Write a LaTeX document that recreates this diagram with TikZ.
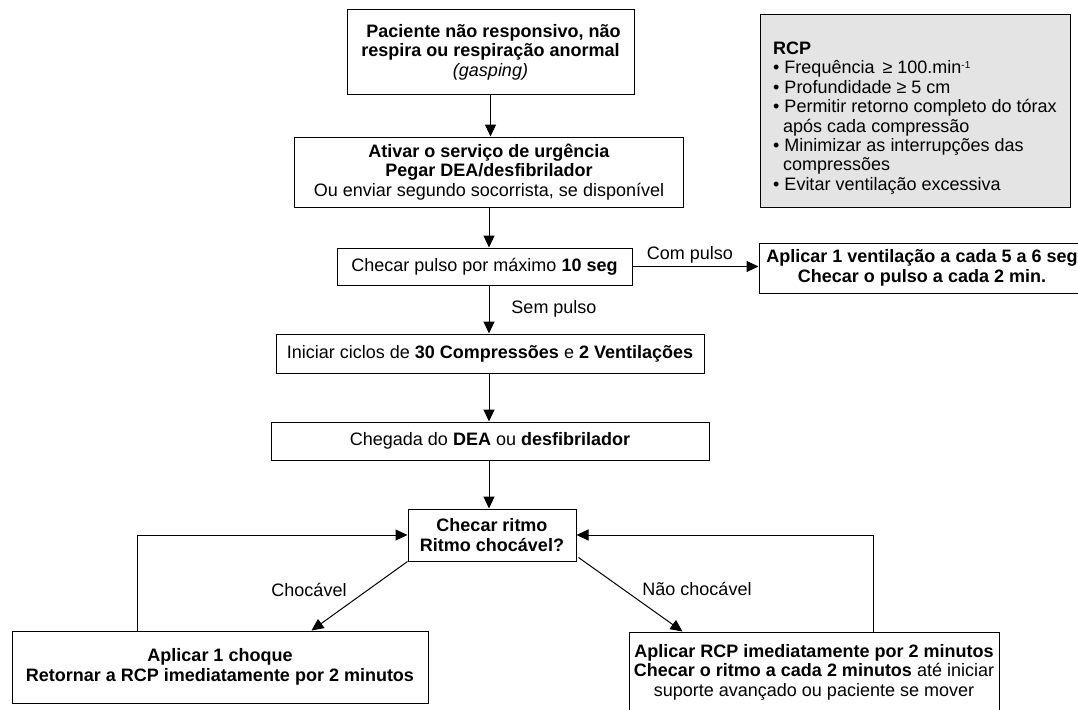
\documentclass[tikz,border=0pt]{standalone}
\usepackage{fontspec}
\setmainfont{Liberation Sans}
\usetikzlibrary{arrows.meta,calc}
\definecolor{rcpgray}{RGB}{228,228,228}
\begin{document}
\begin{tikzpicture}[x=1pt,y=-1pt,
  box/.style={draw=black, line width=1pt, rectangle, inner sep=0pt, align=center, font=\fontsize{18}{19.5}\selectfont},
  arr/.style={draw=black, line width=1pt, -{Triangle[length=12pt,width=11pt]}},
  lbl/.style={font=\fontsize{18}{19.5}\selectfont, inner sep=0pt}]
\useasboundingbox (0,0) rectangle (1078,709);
\node[box, minimum width=287, minimum height=84] (b1) at (490.5,52)
  {\hspace*{6pt}\textbf{Paciente não responsivo, não}\\ \textbf{respira ou respiração anormal}\\ \textit{(gasping)}};
\node[box, minimum width=389, minimum height=70] (b2) at (489,172)
  {\textbf{Ativar o serviço de urgência}\\ \textbf{Pegar DEA/desfibrilador}\\ Ou enviar segundo socorrista, se disponível};
\node[box, minimum width=295, minimum height=37] (b3) at (484.5,266.5)
  {Checar pulso por máximo \textbf{10 seg}};
\node[box, minimum width=326, minimum height=50] (b4) at (922,268)
  {\textbf{Aplicar 1 ventilação a cada 5 a 6 seg}\\ \textbf{Checar o pulso a cada 2 min.}};
\node[box, minimum width=428, minimum height=39] (b5) at (490,353.5)
  {Iniciar ciclos de \textbf{30 Compressões} e \textbf{2 Ventilações}};
\node[box, minimum width=438, minimum height=38] (b6) at (490,441)
  {Chegada do \textbf{DEA} ou \textbf{desfibrilador}};
\node[box, minimum width=168, minimum height=52] (b7) at (492,535)
  {\textbf{Checar ritmo}\\ \textbf{Ritmo chocável?}};
\node[box, minimum width=416, minimum height=72] (b8) at (220,667)
  {\textbf{Aplicar 1 choque}\\ \textbf{Retornar a RCP imediatamente por 2 minutos}};
\node[box, minimum width=370, minimum height=80] (b9) at (814,672)
  {\textbf{Aplicar RCP imediatamente por 2 minutos}\\ \textbf{Checar o ritmo a cada 2 minutos} até iniciar\\ suporte avançado ou paciente se mover};
\node[box, fill=rcpgray, minimum width=310, minimum height=192] (rcp) at (915,111) {};
\node[anchor=west, align=left, inner sep=0pt, font=\fontsize{18}{19.4}\selectfont] (rcpt) at (773,118)
  {\textbf{RCP}\\ • Frequência \,≥ 100.min\raisebox{0.55ex}{\fontsize{10}{10}\selectfont -1}\\ • Profundidade ≥ 5 cm\\ • Permitir retorno completo do tórax\\ \hspace*{10pt}após cada compressão\\ • Minimizar as interrupções das\\ \hspace*{10pt}compressões\\ • Evitar ventilação excessiva};
\coordinate (lx) at (137,0);
\coordinate (rx) at (873,0);
\draw[arr] (b1.south) -- (b1.south |- b2.north);
\draw[arr] (b2.south) -- (b2.south |- b3.north);
\draw[arr] (b2.south |- b3.south) -- (b2.south |- b5.north);
\draw[arr] (b2.south |- b5.south) -- (b2.south |- b6.north);
\draw[arr] (b2.south |- b6.south) -- (b2.south |- b7.north);
\draw[arr] (b3.east) -- (b3.east -| b4.west);
\node[lbl] (lcom) at (690,255) {Com pulso};
\node[lbl] (lsem) at (554,309) {Sem pulso};
\draw[arr] (lx |- b8.north) |- (b7.west);
\draw[arr] (rx |- b9.north) |- (b7.east);
\draw[arr] (b7.south west) -- ($(b8.north west)+(300,0)$);
\draw[arr] ($(b7.south east)+(2,-4)$) -- ($(b9.north west)+(54,0)$);
\node[lbl] (lch) at (309,590) {Chocável};
\node[lbl] (lnch) at (697,589) {Não chocável};
\end{tikzpicture}
\end{document}
